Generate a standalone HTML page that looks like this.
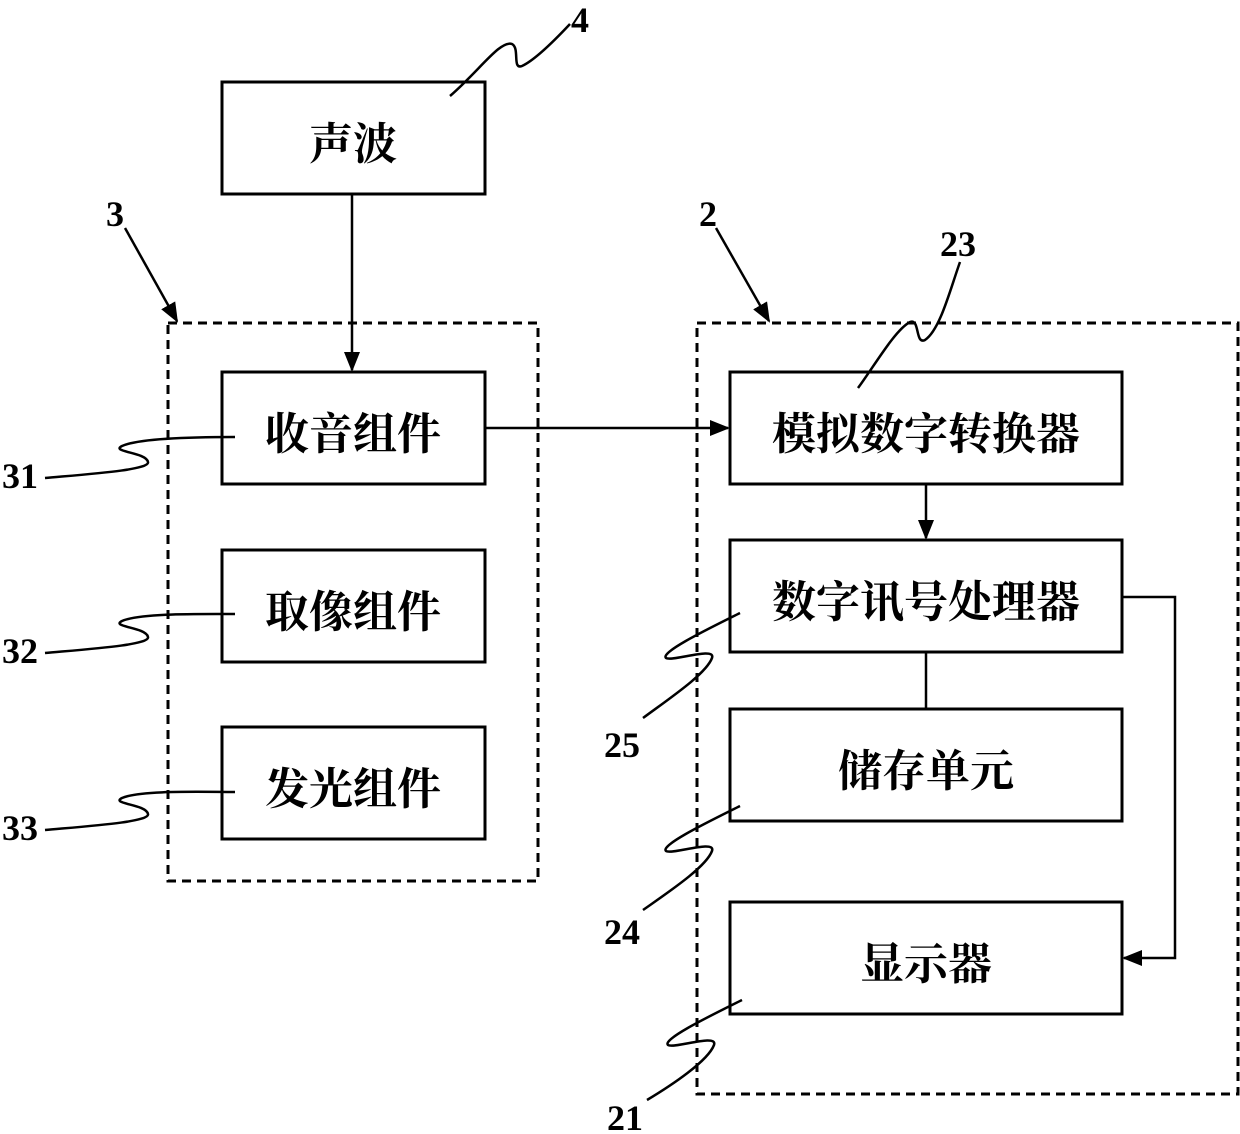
<!DOCTYPE html>
<html><head><meta charset="utf-8"><style>
html,body{margin:0;padding:0;background:#fff}
svg{display:block}
.t{font-family:"Noto Serif CJK SC","Noto Sans CJK SC",serif;font-size:44px;font-weight:bold;fill:#000;text-anchor:middle;dominant-baseline:central}
.n{font-family:"Liberation Serif",serif;font-size:36px;font-weight:bold;fill:#000;text-anchor:middle;dominant-baseline:central}
</style></head><body>
<svg width="1240" height="1134" viewBox="0 0 1240 1134" xmlns="http://www.w3.org/2000/svg">
<defs>
<marker id="b" markerWidth="20" markerHeight="20" refX="18" refY="10" orient="auto" markerUnits="userSpaceOnUse" viewBox="0 0 20 20"><path d="M0,2 L20,10 L0,18 z" fill="#000"/></marker></defs>
<g fill="none" stroke="#000" stroke-width="3">
<rect x="222" y="82" width="263" height="112"/>
<rect x="222" y="372" width="263" height="112"/>
<rect x="222" y="550" width="263" height="112"/>
<rect x="222" y="727" width="263" height="112"/>
<rect x="730" y="372" width="392" height="112"/>
<rect x="730" y="540" width="392" height="112"/>
<rect x="730" y="709" width="392" height="112"/>
<rect x="730" y="902" width="392" height="112"/>
<rect x="168" y="323" width="370" height="558" stroke-dasharray="9,6"/>
<rect x="697" y="323" width="541" height="771" stroke-dasharray="9,6"/>
</g>
<g fill="none" stroke="#000" stroke-width="2.5">
<line x1="352" y1="194" x2="352" y2="370" marker-end="url(#b)"/>
<line x1="485" y1="428" x2="728" y2="428" marker-end="url(#b)"/>
<line x1="926" y1="484" x2="926" y2="538" marker-end="url(#b)"/>
<line x1="926" y1="652" x2="926" y2="709"/>
<polyline points="1122,597 1175,597 1175,958 1124,958" marker-end="url(#b)"/>
<line x1="125" y1="228" x2="177" y2="321" marker-end="url(#b)"/>
<line x1="716" y1="228" x2="769" y2="321" marker-end="url(#b)"/>
<path d="M450,96 C480,70 500,40 512,44 C520,48 512,70 522,66 C535,60 555,40 570,24"/>
<path d="M45,478 C90,474 150,470 148,462 C146,452 110,452 122,446 C140,438 200,437 235,437"/>
<path d="M45,653 C90,649 150,645 148,637 C146,627 110,627 122,621 C140,613 200,614 235,614"/>
<path d="M45,830 C90,826 150,822 148,814 C146,804 110,804 122,798 C140,790 200,792 235,792"/>
<path d="M740,613 C710,628 660,652 666,658 C672,662 716,646 712,658 C706,674 670,698 643,718"/>
<path d="M740,806 C710,821 660,845 666,851 C672,855 716,839 712,851 C706,867 670,891 643,910"/>
<path d="M742,1000 C712,1015 662,1039 668,1045 C674,1049 718,1033 714,1045 C708,1061 672,1085 647,1100"/>
<path d="M858,388 C875,365 895,330 910,322 C920,318 915,345 925,340 C940,330 950,290 960,262"/>
</g>
<text class="t" x="353" y="140">声波</text>
<text class="t" x="353" y="430">收音组件</text>
<text class="t" x="353" y="608">取像组件</text>
<text class="t" x="353" y="785">发光组件</text>
<text class="t" x="926" y="430">模拟数字转换器</text>
<text class="t" x="926" y="598">数字讯号处理器</text>
<text class="t" x="926" y="767">储存单元</text>
<text class="t" x="926" y="960">显示器</text>
<text class="n" x="580" y="20">4</text>
<text class="n" x="115" y="214">3</text>
<text class="n" x="708" y="214">2</text>
<text class="n" x="958" y="244">23</text>
<text class="n" x="20" y="476">31</text>
<text class="n" x="20" y="651">32</text>
<text class="n" x="20" y="828">33</text>
<text class="n" x="622" y="745">25</text>
<text class="n" x="622" y="932">24</text>
<text class="n" x="625" y="1118">21</text>
</svg>
</body></html>
